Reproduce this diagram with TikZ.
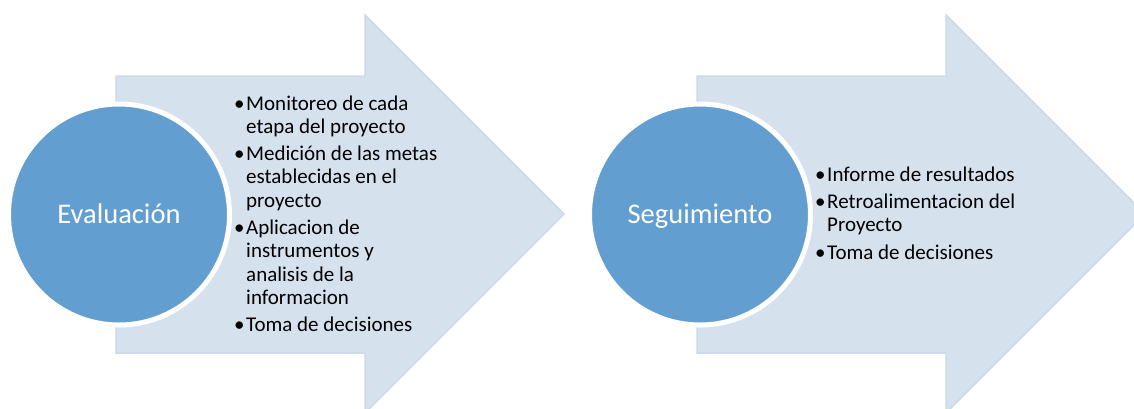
\documentclass[tikz,border=0pt]{standalone}
\usepackage{fontspec}
\setmainfont{Carlito}
\definecolor{arrowfill}{HTML}{D6E1EE}
\definecolor{arrowedge}{HTML}{CCD9EA}
\definecolor{circfill}{HTML}{629ECF}
\begin{document}
\begin{tikzpicture}[x=1pt,y=-1pt,
  arrowshape/.style={fill=arrowfill, draw=arrowedge, line width=1.5pt, line join=miter},
  circ/.style={circle, fill=circfill, draw=white, line width=5pt, minimum size=221pt, inner sep=0pt},
  circtext/.style={anchor=base, inner sep=0pt, text=white, font=\fontsize{28.5}{34}\selectfont},
  bul/.style={anchor=base west, inner sep=0pt, font=\fontsize{21}{23}\selectfont},
  itemline/.style={anchor=base west, inner sep=0pt, font=\fontsize{21}{23}\selectfont}]
\useasboundingbox (0,0) rectangle (1134,408);
\clip (0,0) rectangle (1134,408);
% left arrow
\draw[arrowshape] (116,76) -- (365,76) -- (365,15) -- (564,214) -- (365,413) -- (365,353) -- (116,353) -- cycle;
% right arrow
\draw[arrowshape] (697,76) -- (946,76) -- (946,15) -- (1145,214) -- (946,413) -- (946,353) -- (697,353) -- cycle;
% circles
\node[circ] (c1) at (119,214.5) {};
\node[circ] (c2) at (700,214.5) {};
\node[circtext] (t1) at (119,223) {Evaluación};
\node[circtext] (t2) at (700,223) {Seguimiento};
% left bullets
\node[bul] (b11) at (234,110) {•};
\node[itemline] (l11) at (246,110) {Monitoreo de cada};
\node[itemline] (l12) at (246,133.2) {etapa del proyecto};
\node[bul] (b12) at (234,160.7) {•};
\node[itemline] (l13) at (246,160.7) {Medición de las metas};
\node[itemline] (l14) at (246,183.9) {establecidas en el};
\node[itemline] (l15) at (246,207.1) {proyecto};
\node[bul] (b13) at (234,234.6) {•};
\node[itemline] (l16) at (246,234.6) {Aplicacion de};
\node[itemline] (l17) at (246,257.8) {instrumentos y};
\node[itemline] (l18) at (246,281) {analisis de la};
\node[itemline] (l19) at (246,304.2) {informacion};
\node[bul] (b14) at (234,331.7) {•};
\node[itemline] (l110) at (246,331.7) {Toma de decisiones};
% right bullets
\node[bul] (b21) at (815,181) {•};
\node[itemline] (l21) at (827,181) {Informe de resultados};
\node[bul] (b22) at (815,208.5) {•};
\node[itemline] (l22) at (827,208.5) {Retroalimentacion del};
\node[itemline] (l23) at (827,231.7) {Proyecto};
\node[bul] (b23) at (815,259.2) {•};
\node[itemline] (l24) at (827,259.2) {Toma de decisiones};
\end{tikzpicture}
\end{document}
